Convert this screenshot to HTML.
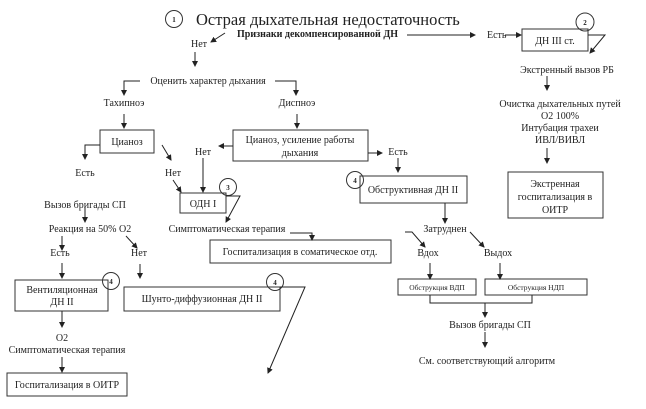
<!DOCTYPE html>
<html><head><meta charset="utf-8"><style>
html,body{margin:0;padding:0;background:#fff;width:646px;height:409px;overflow:hidden}
svg text{font-family:"Liberation Serif",serif;fill:#222;font-size:10px}
</style></head><body>
<svg width="646" height="409" viewBox="0 0 646 409" xmlns="http://www.w3.org/2000/svg">
<defs><marker id="a" markerWidth="6" markerHeight="6" refX="5" refY="3" orient="auto" markerUnits="userSpaceOnUse"><path d="M0,0 L6,3 L0,6 z" fill="#222"/></marker></defs>
<g stroke="#333" stroke-width="1" fill="none">
<circle cx="174" cy="19" r="8.5"/><circle cx="585" cy="22" r="9"/><circle cx="228" cy="187" r="8.5"/>
<circle cx="355" cy="180" r="8.5"/><circle cx="111" cy="281" r="8.5"/><circle cx="275" cy="282" r="8.5"/>
<rect x="522" y="29" width="66" height="22"/>
<rect x="508" y="172" width="95" height="46"/>
<rect x="100" y="130" width="54" height="23"/>
<rect x="233" y="130" width="135" height="31"/>
<rect x="180" y="193" width="46" height="20"/>
<rect x="360" y="176" width="107" height="27"/>
<rect x="210" y="240" width="181" height="23"/>
<rect x="15" y="280" width="93" height="31"/>
<rect x="124" y="287" width="156" height="24"/>
<rect x="7" y="373" width="120" height="23"/>
<rect x="398" y="279" width="78" height="16"/>
<rect x="485" y="279" width="102" height="16"/>
</g>
<g stroke="#222" stroke-width="1" fill="none" marker-end="url(#a)">
<path d="M407,35 H475"/><path d="M505,35 H521"/>
<path d="M588,35 H605 L590,53"/>
<path d="M547,76 V90"/><path d="M547,148 V163"/>
<path d="M225,33 L211,42"/><path d="M195,52 V66"/>
<path d="M140,81 H124 V95"/><path d="M275,81 H296 V95"/>
<path d="M124,114 V128"/><path d="M297,114 V128"/>
<path d="M100,145 H85 V159"/><path d="M162,145 L171,160"/>
<path d="M173,180 L181,192"/>
<path d="M233,146 H219"/><path d="M203,158 V192"/>
<path d="M368,153 H382"/><path d="M398,158 V172"/>
<path d="M226,196 H240 L226,222"/>
<path d="M85,208 V222"/>
<path d="M62,236 V250"/><path d="M62,263 V278"/>
<path d="M126,236 L137,248"/><path d="M140,264 V278"/>
<path d="M280,287 H305 L268,373"/>
<path d="M290,233 H312 V240"/>
<path d="M62,311 V327"/><path d="M62,357 V372"/>
<path d="M445,203 V223"/>
<path d="M405,232 H412 L425,247"/><path d="M470,232 L484,247"/>
<path d="M430,263 V279"/><path d="M500,263 V279"/>
<path d="M485,303 V317"/><path d="M485,332 V347"/>
</g>
<path d="M430,295 V303 H532 V295" stroke="#222" fill="none"/>
<g font-weight="bold" font-size="7">
<text x="174" y="22" text-anchor="middle" style="font-size:7px">1</text>
<text x="585" y="25" text-anchor="middle" style="font-size:7px">2</text>
<text x="228" y="190" text-anchor="middle" style="font-size:7px">3</text>
<text x="355" y="183" text-anchor="middle" style="font-size:7px">4</text>
<text x="111" y="284" text-anchor="middle" style="font-size:7px">4</text>
<text x="275" y="285" text-anchor="middle" style="font-size:7px">4</text>
</g>
<text x="196" y="25" style="font-size:16.5px">Острая дыхательная недостаточность</text>
<text x="237" y="37" style="font-size:10px;font-weight:bold">Признаки декомпенсированной ДН</text>
<text x="487" y="38">Есть</text>
<text x="555" y="44" text-anchor="middle">ДН III ст.</text>
<text x="567" y="73" text-anchor="middle">Экстренный вызов РБ</text>
<text x="560" y="107" text-anchor="middle">Очистка дыхательных путей</text>
<text x="560" y="119" text-anchor="middle">О2 100%</text>
<text x="560" y="131" text-anchor="middle">Интубация трахеи</text>
<text x="560" y="143" text-anchor="middle">ИВЛ/ВИВЛ</text>
<text x="555" y="187" text-anchor="middle">Экстренная</text>
<text x="555" y="200" text-anchor="middle">госпитализация в</text>
<text x="555" y="213" text-anchor="middle">ОИТР</text>
<text x="199" y="47" text-anchor="middle">Нет</text>
<text x="208" y="84" text-anchor="middle">Оценить характер дыхания</text>
<text x="124" y="106" text-anchor="middle">Тахипноэ</text>
<text x="297" y="106" text-anchor="middle">Диспноэ</text>
<text x="127" y="145" text-anchor="middle">Цианоз</text>
<text x="300" y="143" text-anchor="middle">Цианоз, усиление работы</text>
<text x="300" y="156" text-anchor="middle">дыхания</text>
<text x="203" y="155" text-anchor="middle">Нет</text>
<text x="398" y="155" text-anchor="middle">Есть</text>
<text x="85" y="176" text-anchor="middle">Есть</text>
<text x="173" y="176" text-anchor="middle">Нет</text>
<text x="203" y="207" text-anchor="middle">ОДН I</text>
<text x="413" y="193" text-anchor="middle">Обструктивная ДН II</text>
<text x="85" y="208" text-anchor="middle">Вызов бригады СП</text>
<text x="90" y="232" text-anchor="middle">Реакция на 50% О2</text>
<text x="60" y="256" text-anchor="middle">Есть</text>
<text x="139" y="256" text-anchor="middle">Нет</text>
<text x="227" y="232" text-anchor="middle">Симптоматическая терапия</text>
<text x="300" y="255" text-anchor="middle">Госпитализация в соматическое отд.</text>
<text x="62" y="293" text-anchor="middle">Вентиляционная</text>
<text x="62" y="305" text-anchor="middle">ДН II</text>
<text x="202" y="302" text-anchor="middle">Шунто-диффузионная ДН II</text>
<text x="62" y="341" text-anchor="middle">О2</text>
<text x="67" y="353" text-anchor="middle">Симптоматическая терапия</text>
<text x="67" y="388" text-anchor="middle">Госпитализация в ОИТР</text>
<text x="445" y="232" text-anchor="middle">Затруднен</text>
<text x="428" y="256" text-anchor="middle">Вдох</text>
<text x="498" y="256" text-anchor="middle">Выдох</text>
<text x="437" y="290" text-anchor="middle" style="font-size:7.5px">Обструкция ВДП</text>
<text x="536" y="290" text-anchor="middle" style="font-size:7.5px">Обструкция НДП</text>
<text x="490" y="328" text-anchor="middle">Вызов бригады СП</text>
<text x="487" y="364" text-anchor="middle">См. соответствующий алгоритм</text>
</svg>
</body></html>
